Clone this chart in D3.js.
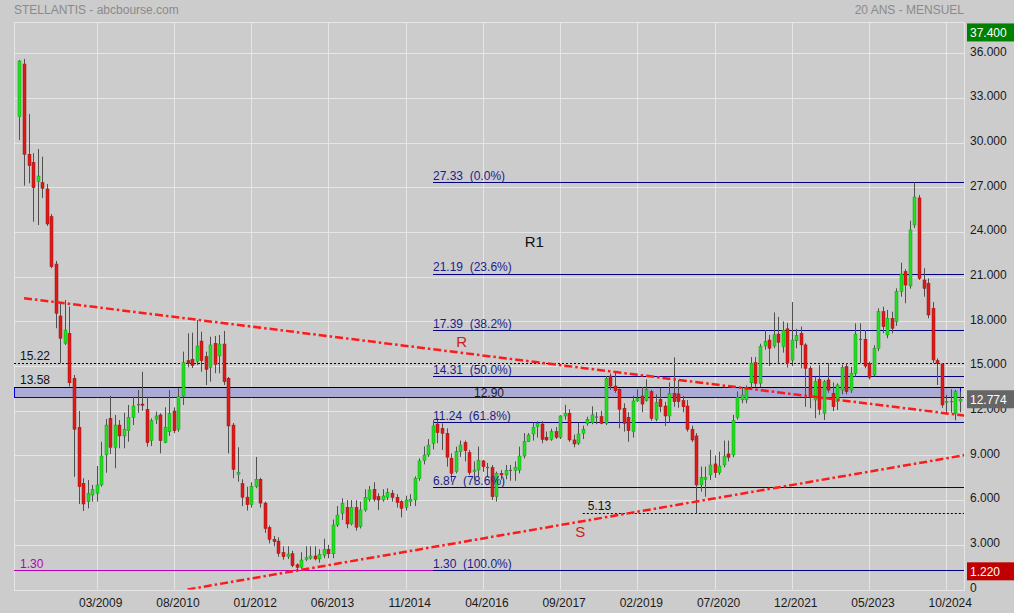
<!DOCTYPE html>
<html><head><meta charset="utf-8">
<script src="https://cdn.jsdelivr.net/npm/d3@7"></script>
<style>
html,body{margin:0;padding:0;background:#cccccc;}
svg{display:block;font-family:"Liberation Sans",Arial,sans-serif;}
</style>
</head><body>
<svg id="chart" width="1014" height="613"></svg>
<script>
// ---- DATA (monthly candles, first candle = 10/2007) ----
const firstMonth = "10/2007";
const open  = [31.74,35.28,29.22,28.68,27.38,27.31,26.89,25.03,21.85,18.36,16.53,17.20,14.18,10.89,7.13,5.90,6.34,6.46,7.02,9.03,
11.49,9.55,11.04,10.31,10.66,11.56,12.42,12.45,12.10,9.99,11.43,11.72,9.86,10.59,11.98,10.76,12.99,15.36,15.46,15.30,
16.68,15.63,14.92,16.53,15.68,16.48,14.18,11.04,7.73,7.10,6.20,5.70,6.90,7.40,5.80,4.15,3.37,3.25,2.47,2.20,
2.40,1.66,1.50,2.00,2.10,2.25,2.05,2.30,2.70,2.40,4.33,5.12,5.52,4.40,5.52,4.22,5.34,6.06,6.73,6.23,
6.01,6.19,6.46,6.19,5.90,5.52,5.90,6.01,7.47,8.65,9.03,9.82,11.11,10.82,10.49,8.81,7.91,9.25,9.86,9.19,
7.91,8.02,8.63,8.20,8.18,6.23,7.80,7.69,8.00,8.00,8.02,8.96,9.92,10.44,10.93,11.11,10.22,10.08,10.60,10.22,
11.65,11.83,10.04,9.82,10.49,11.16,11.20,11.58,11.60,11.16,14.33,13.66,13.44,12.17,11.56,10.60,12.66,12.99,12.68,13.28,
11.43,12.77,12.32,11.65,13.17,13.13,12.68,12.32,10.76,10.31,7.02,7.40,7.69,8.43,7.84,8.36,9.10,9.03,11.56,12.73,
12.73,13.88,15.23,13.84,16.35,16.75,16.35,17.15,16.30,17.50,15.40,16.70,17.20,16.42,14.85,12.72,14.11,11.83,14.07,13.17,
12.61,13.39,14.96,13.39,14.52,16.80,16.80,15.19,14.40,16.19,18.65,17.09,18.21,17.98,20.00,21.34,20.38,24.47,26.29,20.78,
20.56,18.88,15.36,15.14,12.55,12.62,11.80,12.65];
const high  = [35.55,35.62,31.93,29.29,29.58,29.06,27.23,25.21,22.06,19.24,19.44,18.99,14.40,11.98,7.47,7.35,7.02,8.29,9.92,11.45,
12.99,11.72,11.38,11.87,12.39,12.94,13.39,14.62,12.94,11.49,11.94,11.83,12.23,13.39,12.23,13.51,15.97,17.20,17.24,18.09,
17.31,15.97,16.97,17.02,17.09,17.36,14.27,11.18,9.55,7.40,6.90,7.20,8.90,7.50,5.90,4.30,3.60,3.50,2.90,2.90,
2.60,1.75,2.50,2.90,2.90,2.90,2.70,3.40,3.00,4.70,5.60,6.12,6.00,6.00,6.00,5.90,6.73,6.95,7.20,6.46,
6.73,6.80,6.68,6.40,6.00,6.30,6.40,7.60,8.80,9.60,10.10,11.38,11.50,11.16,10.82,9.14,9.59,10.00,10.00,9.37,
8.60,9.59,8.70,8.50,8.36,7.91,8.02,8.36,8.36,8.60,9.59,10.50,10.50,11.20,11.30,11.30,10.60,10.80,10.90,11.70,
12.40,12.10,10.40,11.20,11.00,11.60,12.30,11.90,12.00,14.33,14.50,14.60,13.50,12.50,11.90,13.00,13.44,13.60,14.10,13.40,
13.10,13.55,12.60,13.90,15.59,14.07,13.00,12.72,11.00,10.50,8.25,8.25,9.37,9.00,9.25,10.00,10.00,11.72,13.30,13.60,
13.70,15.60,15.60,16.50,17.40,17.10,18.60,18.30,18.00,17.90,19.30,17.50,17.65,16.53,15.00,14.30,15.07,14.07,15.19,13.90,
13.84,15.10,15.19,14.96,17.87,17.87,17.42,15.30,16.40,18.88,18.99,18.77,18.65,20.22,21.94,21.50,24.76,27.33,26.49,21.57,
20.89,19.30,15.52,15.20,13.06,13.44,13.40,13.30];
const low   = [30.18,27.11,27.27,24.69,24.47,26.29,24.41,21.57,17.54,15.19,16.42,13.62,7.57,5.74,5.27,5.45,5.90,5.90,6.90,7.84,
9.10,8.14,9.48,9.48,9.92,11.04,11.87,12.00,9.59,9.63,11.11,9.14,9.82,10.31,10.49,10.59,12.39,14.92,14.87,15.07,
14.62,13.73,13.95,14.52,14.52,13.73,9.14,7.47,7.24,5.60,5.30,5.50,6.80,5.50,3.80,3.10,2.90,2.20,2.00,2.05,
1.50,1.22,1.40,1.90,2.00,1.95,1.80,2.10,2.10,2.10,4.20,4.67,4.11,4.30,3.95,4.10,5.22,5.90,5.90,5.34,
5.90,6.00,5.90,5.50,4.85,5.30,5.60,5.60,7.30,8.40,8.90,9.41,9.82,9.37,8.25,7.24,7.80,8.90,8.60,7.69,
7.30,7.57,7.90,7.60,6.01,5.90,7.38,7.40,7.30,7.30,7.80,8.80,9.90,10.00,10.20,9.82,9.98,9.98,10.10,10.10,
11.40,9.92,9.55,9.70,10.10,11.00,11.10,11.10,11.10,11.04,13.40,13.20,10.82,10.60,9.92,10.20,12.60,11.90,12.60,11.33,
11.30,11.90,10.98,11.20,12.27,12.20,11.90,10.60,9.90,5.13,6.57,6.23,7.35,7.50,7.70,8.20,8.60,8.88,11.40,12.50,
12.50,13.50,13.60,13.60,16.10,15.00,16.20,15.20,15.90,14.90,15.00,16.20,14.85,12.27,12.17,11.50,11.72,11.38,13.20,11.98,
12.05,13.10,13.10,13.20,14.30,15.19,14.85,14.10,14.30,16.00,17.20,16.87,17.20,17.70,19.66,19.22,20.20,24.27,20.78,19.66,
18.21,15.20,13.73,12.20,11.87,11.87,11.35,11.90];
const close = [35.48,29.22,28.45,26.98,27.76,26.94,24.54,21.67,18.54,16.87,17.42,13.88,10.76,6.90,5.74,6.46,6.73,7.02,8.96,11.04,
9.55,11.04,10.31,10.76,11.56,12.32,12.42,12.37,9.86,11.33,11.65,9.99,10.89,11.83,10.66,12.94,15.23,15.19,15.03,16.35,
15.36,14.78,16.42,15.12,16.48,13.95,10.98,8.07,7.87,6.20,5.70,6.90,7.40,5.80,4.10,3.37,3.21,2.43,2.20,2.38,
1.60,1.49,1.98,2.13,2.25,2.05,2.35,2.70,2.40,4.33,5.00,5.79,4.40,5.52,4.18,5.34,6.19,6.68,6.06,6.01,
6.28,6.50,6.19,5.83,5.45,6.01,6.06,7.47,8.63,9.03,9.70,10.98,10.53,10.49,8.88,7.80,9.25,9.70,9.32,7.84,
8.02,8.65,8.25,8.20,6.23,7.80,7.69,8.00,8.00,8.20,8.96,9.92,10.37,10.89,11.16,10.08,10.04,10.60,10.22,11.65,
11.83,10.04,9.77,10.44,10.76,11.43,11.72,11.58,11.16,14.18,13.66,13.35,12.10,11.16,10.66,12.66,12.83,12.45,13.44,11.49,
12.54,12.27,11.65,13.17,12.61,12.61,12.27,10.76,10.04,7.02,7.53,7.53,8.36,7.84,8.29,8.96,8.88,11.33,12.90,13.06,
13.44,15.19,13.84,16.30,16.64,16.20,17.10,16.60,17.40,15.20,16.75,17.05,16.42,14.85,12.94,13.95,12.10,13.95,13.39,12.27,
13.73,14.92,13.28,14.52,17.15,16.80,15.00,14.25,16.19,18.65,17.65,18.21,17.54,20.00,21.18,20.44,24.14,26.35,20.89,20.22,
18.43,15.41,15.19,12.39,12.62,12.60,13.30,12.774];

const xTickLabels = ["03/2009","08/2010","01/2012","06/2013","11/2014","04/2016","09/2017","02/2019","07/2020","12/2021","05/2023","10/2024"];
const yTickValues = [0,3,6,9,12,15,18,21,24,27,30,33,36];
const fibValues = [27.33,21.19,17.39,14.31,11.24,6.87,1.30];
const fibPercents = ["0.0%","23.6%","38.2%","50.0%","61.8%","78.6%","100.0%"];
const fibStartMonth = "05/2015";
const dottedLevels = [15.22, 5.13];
const dottedStartMonths = [null, "02/2018"];
const bandLow = 12.90, bandHigh = 13.58;
const magentaLevel = 1.30;
const resistanceR = [["11/2007",19.56],["05/2025",11.56]];   // month, value
const supportS    = [["11/2010",0.00],["03/2025",9.07]];
const tagValues = [37.4, 12.774, 1.22];
const tagColors = ["#008000","#666666","#c00000"];

// ---- helpers ----
function monthIndex(s){const [m,yr]=s.split("/").map(Number);const [m0,y0]=firstMonth.split("/").map(Number);return (yr-y0)*12+(m-m0);}

const L=14, R=964, T=22.3, B=589.5;
const x = d3.scaleLinear().domain([-1.2, 207.9]).range([L, R]);
const y = d3.scaleLinear().domain([0, 38.08]).range([B, T]);
const svg = d3.select("#chart");

svg.append("defs").append("clipPath").attr("id","plotclip")
  .append("rect").attr("x",L).attr("y",T).attr("width",R-L).attr("height",B-T);

// title texts
svg.append("text").attr("x",14).attr("y",13.5).attr("font-size",12).attr("fill","#8a8a8a").text("STELLANTIS - abcbourse.com");
svg.append("text").attr("x",964).attr("y",13.5).attr("text-anchor","end").attr("font-size",12).attr("fill","#8a8a8a").text("20 ANS - MENSUEL");

// grid
const grid = svg.append("g");
yTickValues.filter(v=>v>0).forEach(v=>{
  const yy=Math.round(y(v))+0.5;
  grid.append("line").attr("x1",L).attr("x2",R).attr("y1",yy).attr("y2",yy).attr("stroke","#e6e6e6").attr("stroke-width",1);
});
xTickLabels.forEach(t=>{
  const xx=Math.round(x(monthIndex(t)))+0.5;
  grid.append("line").attr("x1",xx).attr("x2",xx).attr("y1",T).attr("y2",B).attr("stroke","#e6e6e6").attr("stroke-width",1);
});
grid.append("rect").attr("x",L+0.5).attr("y",Math.round(T)+0.5).attr("width",R-L).attr("height",Math.round(B)-Math.round(T))
  .attr("fill","none").attr("stroke","#e6e6e6").attr("stroke-width",1);

// band
const lastIdx = close.length-1;
const bx1 = L+0.5, bx2 = Math.round(x(lastIdx))+0.5;
const byTop = Math.round(y(bandHigh))+0.5, byBot = Math.round(y(bandLow))+0.5;
svg.append("rect").attr("x",bx1).attr("y",byTop).attr("width",bx2-bx1).attr("height",byBot-byTop).attr("fill","#ababd6");
svg.append("line").attr("x1",bx1).attr("x2",bx1).attr("y1",byTop).attr("y2",byBot).attr("stroke","#0000ee");
svg.append("line").attr("x1",bx2).attr("x2",bx2).attr("y1",byTop).attr("y2",byBot).attr("stroke","#0000ee");
svg.append("line").attr("x1",L).attr("x2",R).attr("y1",byBot).attr("y2",byBot).attr("stroke","#0000ee");
svg.append("line").attr("x1",L).attr("x2",R).attr("y1",byTop).attr("y2",byTop).attr("stroke","#000");

// magenta 1.30 line
const my = Math.round(y(magentaLevel))+0.5;
svg.append("line").attr("x1",L).attr("x2",R).attr("y1",my).attr("y2",my).attr("stroke","#b400b4");

// dotted lines
dottedLevels.forEach((v,k)=>{
  const yy=Math.round(y(v))+0.5;
  const xs = dottedStartMonths[k]? x(monthIndex(dottedStartMonths[k])) : L;
  svg.append("line").attr("x1",xs).attr("x2",R).attr("y1",yy).attr("y2",yy).attr("stroke","#000").attr("stroke-dasharray","2,2");
});

// fib lines
const fx = Math.round(x(monthIndex(fibStartMonth)));
fibValues.forEach(v=>{
  const yy=Math.round(y(v))+0.5;
  svg.append("line").attr("x1",fx).attr("x2",R).attr("y1",yy).attr("y2",yy).attr("stroke","#000080").attr("stroke-width",1.2);
});

// candles
const cg = svg.append("g");
open.forEach((o,i)=>{
  const c=close[i], h=high[i], l=low[i];
  const cx=Math.round(x(i));
  cg.append("line").attr("x1",cx+0.5).attr("x2",cx+0.5).attr("y1",y(h)).attr("y2",y(l)).attr("stroke","#505050").attr("stroke-width",1);
  const top=y(Math.max(o,c)), bot=y(Math.min(o,c));
  const up=c>o, doji=Math.abs(c-o)<0.03;
  cg.append("rect").attr("x",cx-1).attr("y",doji?top-0.5:top).attr("width",3).attr("height",Math.max(1.2,bot-top))
    .attr("fill",doji?"#606060":(up?"#22dd22":"#dd1a1a"))
    .attr("stroke",doji?"none":(up?"#12a012":"#a01010")).attr("stroke-width",0.5);
});

// trendlines
const tl = svg.append("g").attr("clip-path","url(#plotclip)");
[resistanceR, supportS].forEach(seg=>{
  tl.append("line")
    .attr("x1",x(monthIndex(seg[0][0]))).attr("y1",y(seg[0][1]))
    .attr("x2",x(monthIndex(seg[1][0]))).attr("y2",y(seg[1][1]))
    .attr("stroke","#ff1a1a").attr("stroke-width",2.5).attr("stroke-dasharray","8,3,2.5,3");
});

// fib labels
fibValues.forEach((v,k)=>{
  svg.append("text").attr("x",fx).attr("y",y(v)-2.5).attr("font-size",12).attr("fill","#1c1c8c")
    .attr("xml:space","preserve").style("white-space","pre").text(v.toFixed(2)+"  ("+fibPercents[k]+")");
});

// level labels
svg.append("text").attr("x",20).attr("y",y(15.22)-2.5).attr("font-size",12).attr("fill","#111").text("15.22");
svg.append("text").attr("x",20).attr("y",y(bandHigh)-2.8).attr("font-size",12).attr("fill","#111").text("13.58");
svg.append("text").attr("x",(L+R)/2).attr("y",(y(bandLow)+y(bandHigh))/2+4.5).attr("text-anchor","middle").attr("font-size",12).attr("fill","#222").text(bandLow.toFixed(2));
svg.append("text").attr("x",20).attr("y",y(magentaLevel)-2.5).attr("font-size",12).attr("fill","#b400b4").text("1.30");
svg.append("text").attr("x",x(monthIndex(dottedStartMonths[1]))+5).attr("y",y(5.13)-3).attr("font-size",12).attr("fill","#111").text("5.13");

// annotations
svg.append("text").attr("x",x(monthIndex("01/2017"))+1).attr("y",y(23.0)).attr("font-size",15).attr("fill","#111").text("R1");
svg.append("text").attr("x",x(monthIndex("11/2015"))-4).attr("y",y(16.3)).attr("font-size",15).attr("fill","#cc2020").text("R");
svg.append("text").attr("x",x(monthIndex("01/2018"))-3).attr("y",y(3.5)).attr("font-size",15).attr("fill","#cc2020").text("S");

// axes
const yAxis = d3.axisRight(y).tickValues(yTickValues).tickSize(0).tickPadding(3)
  .tickFormat(d=> d===0 ? "0" : d3.format(".3f")(d));
const ya = svg.append("g").attr("transform",`translate(967,0)`).call(yAxis);
ya.select(".domain").remove();
ya.selectAll("text").attr("font-size",12).attr("fill","#1a1a1a").attr("font-family","Liberation Sans, Arial, sans-serif").attr("dy","0.15em");

const xAxis = d3.axisBottom(x).tickValues(xTickLabels.map(monthIndex)).tickSize(0).tickPadding(9)
  .tickFormat((d,k)=>xTickLabels[k]);
const xa = svg.append("g").attr("transform",`translate(3.5,${B})`).call(xAxis);
xa.select(".domain").remove();
xa.selectAll("text").attr("font-size",12).attr("fill","#1a1a1a").attr("font-family","Liberation Sans, Arial, sans-serif");

// value tags
tagValues.forEach((v,k)=>{
  const cy=y(v);
  svg.append("rect").attr("x",967).attr("y",cy-9).attr("width",47).attr("height",18).attr("fill",tagColors[k]);
  svg.append("text").attr("x",970).attr("y",cy+4.5).attr("font-size",12).attr("fill","#fff").text(d3.format(".3f")(v));
});
</script>
</body></html>
